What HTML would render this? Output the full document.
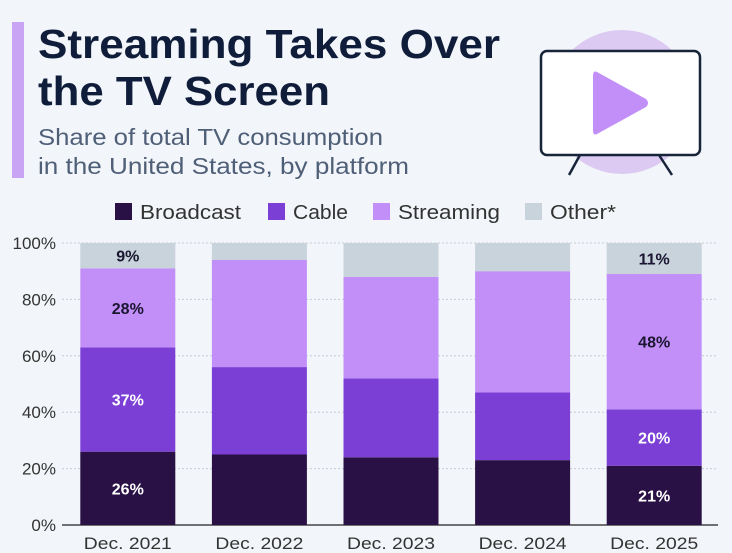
<!DOCTYPE html>
<html><head><meta charset="utf-8">
<style>
body{margin:0;background:#f2f5f9;font-family:"Liberation Sans",sans-serif;}
#wrap{position:relative;width:732px;height:553px;overflow:hidden;background:#f2f5f9;}
</style></head>
<body>
<div id="wrap">
<svg id="svg" width="732" height="553">
  <rect x="12" y="22" width="12" height="156" fill="#c9a4f5"/>
  <text x="38" y="58" font-size="41" font-weight="bold" fill="#0f1d3a" textLength="462" lengthAdjust="spacingAndGlyphs">Streaming Takes Over</text>
  <text x="38" y="105" font-size="41" font-weight="bold" fill="#0f1d3a" textLength="292" lengthAdjust="spacingAndGlyphs">the TV Screen</text>
  <text x="38" y="145" font-size="23" fill="#4f5f78" textLength="345" lengthAdjust="spacingAndGlyphs">Share of total TV consumption</text>
  <text x="38" y="174" font-size="23" fill="#4f5f78" textLength="371" lengthAdjust="spacingAndGlyphs">in the United States, by platform</text>
  <g>
    <circle cx="622" cy="102" r="72" fill="#dccaf3"/>
    <rect x="541" y="51" width="159" height="104" rx="6" fill="#fff" stroke="#17243a" stroke-width="2.5"/>
    <line x1="580" y1="155" x2="569" y2="175" stroke="#17243a" stroke-width="2.5"/>
    <line x1="659" y1="155" x2="672" y2="175" stroke="#17243a" stroke-width="2.5"/>
    <path d="M597 72 L646 99 Q650 103 646 107 L597 134 Q593 136 593 130 L593 76 Q593 70 597 72 Z" fill="#c28ff8"/>
  </g>
  <g id="legend"></g>
  <g id="grid"></g>
  <g id="bars"></g>
</svg>
</div>
<script>
const categories=["Dec. 2021","Dec. 2022","Dec. 2023","Dec. 2024","Dec. 2025"];
const broadcast=[26,25,24,23,21];
const cable=[37,31,28,24,20];
const streaming=[28,38,36,43,48];
const other=[9,6,12,10,11];
const seriesNames=["Broadcast","Cable","Streaming","Other*"];
const yTicks=[0,20,40,60,80,100];
const labelBroadcast=["26%","","","","21%"];
const labelCable=["37%","","","","20%"];
const labelStreaming=["28%","","","","48%"];
const labelOther=["9%","","","","11%"];

const NS="http://www.w3.org/2000/svg";
const colors=["#2a1145","#7b3fd6","#c28ff8","#c8d3db"];
const textCol=["#fff","#fff","#1a1530","#1a1530"];
const y0=525,y1=243,xL=64,xR=722;
const y=v=>y0-(v/100)*(y0-y1);
const band=(xR-xL)/categories.length;
const bw=95;
const x=i=>xL+band*i+(band-bw)/2-2;
function el(t,a,p){const e=document.createElementNS(NS,t);for(const k in a)e.setAttribute(k,a[k]);p.appendChild(e);return e;}
const grid=document.getElementById('grid'),bars=document.getElementById('bars'),leg=document.getElementById('legend');
yTicks.forEach(t=>{
  const l=el('line',{x1:62,x2:718,y1:y(t),y2:y(t),stroke:t===0?'#222':'#c5ccd6','stroke-width':t===0?1.2:1,'stroke-dasharray':t===0?'':'2,2'},grid);
  
  
  const tx=el('text',{x:56,y:y(t)+6,'text-anchor':'end','font-size':17,fill:'#333'},grid);
  tx.textContent=t+'%';
  
  
});
const data=[broadcast,cable,streaming,other];
const labels=[labelBroadcast,labelCable,labelStreaming,labelOther];
categories.forEach((c,i)=>{
  let acc=0;
  data.forEach((s,k)=>{
    const v=k===3?100-acc:s[i];
    const r=el('rect',{x:x(i),y:y(acc+v),width:bw,height:y(acc)-y(acc+v),fill:colors[k]},bars);
    
    
    const lb=labels[k][i];
    if(lb){const t=el('text',{x:x(i)+bw/2,y:(y(acc)+y(acc+v))/2+6,'text-anchor':'middle','font-size':16,'font-weight':'bold',fill:textCol[k]},bars);t.textContent=lb;
      
      }
    acc+=v;
  });
  const t=el('text',{x:x(i)+bw/2,y:549,'text-anchor':'middle','font-size':17,fill:'#333',textLength:88,lengthAdjust:'spacingAndGlyphs'},bars);
  t.textContent=c;
  
  
});
const legX=[115,268,373,525];
const legW=[101,55,102,66];
seriesNames.forEach((n,k)=>{
  const r=el('rect',{x:legX[k],y:203,width:17,height:17,fill:colors[k]},leg);
  
  
  const t=el('text',{x:legX[k]+25,y:219,'font-size':20,fill:'#333',textLength:legW[k],lengthAdjust:'spacingAndGlyphs'},leg);
  t.textContent=n;
  
  
});
</script>
</body></html>
